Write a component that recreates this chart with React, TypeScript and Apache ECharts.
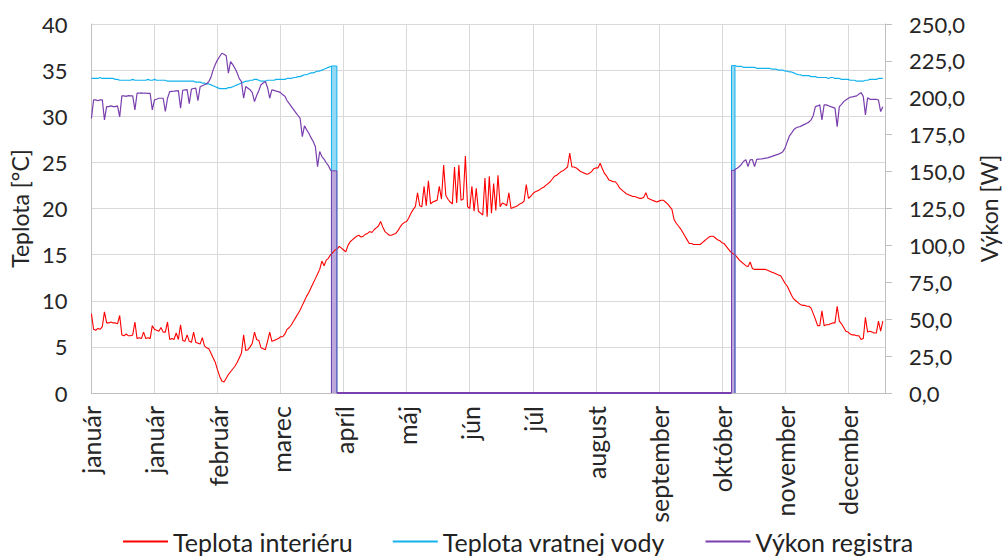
import React, { useEffect, useRef } from "react";
import * as echarts from "echarts";

// x axis: day of year, one major tick every 29 days
const tickLabels = ["január", "január", "február", "marec", "apríl", "máj", "jún", "júl", "august", "september", "október", "november", "december"];
const tickStep = 29;
const yearDays = 365;

// Teplota interiéru [°C], one value per day (day 0 .. 364)
const redTemp = [
  8.6, 6.9, 6.8, 7.0, 6.9, 7.2, 8.8, 7.6, 7.6, 7.7,
  7.6, 7.6, 7.5, 8.4, 6.3, 6.2, 6.4, 6.2, 6.2, 6.3,
  7.7, 5.9, 6.0, 5.9, 6.6, 5.9, 6.0, 5.9, 7.3, 6.9,
  6.8, 6.7, 7.1, 6.6, 6.6, 7.7, 5.8, 5.9, 5.8, 6.5,
  5.8, 7.4, 5.7, 5.6, 6.3, 5.6, 5.5, 6.6, 5.5, 5.4,
  5.3, 6.0, 5.1, 4.9, 4.8, 4.3, 3.8, 3.3, 2.5, 1.8,
  1.3, 1.2, 1.6, 2.0, 2.3, 2.6, 2.9, 3.3, 3.8, 4.3,
  6.3, 4.6, 4.7, 5.0, 5.4, 6.6, 5.8, 5.7, 4.9, 4.8,
  4.7, 5.6, 6.6, 5.6, 5.7, 5.8, 5.9, 6.1, 6.1, 6.4,
  6.9, 7.1, 7.4, 7.8, 8.2, 8.6, 9.0, 9.5, 10.0, 10.5,
  10.9, 11.4, 11.9, 12.4, 12.9, 13.4, 14.3, 13.8, 14.4, 14.6,
  15.0, 15.2, 15.5, 15.6, 15.9, 15.7, 15.5, 15.3, 16.0, 16.4,
  16.6, 16.8, 17.0, 17.1, 16.9, 17.0, 17.2, 17.3, 17.5, 17.4,
  17.7, 17.9, 18.1, 18.6, 18.0, 17.5, 17.3, 17.1, 17.1, 17.2,
  17.3, 17.6, 18.0, 18.3, 18.5, 18.6, 19.0, 19.5, 19.9, 20.2,
  21.7, 20.3, 20.2, 22.4, 20.3, 23.0, 20.5, 20.7, 20.8, 20.9,
  22.4, 21.0, 24.7, 21.4, 21.0, 20.7, 20.5, 24.5, 20.6, 24.7,
  20.9, 21.0, 25.7, 20.2, 20.0, 22.4, 19.7, 22.2, 19.7, 19.5,
  19.3, 23.3, 19.1, 23.5, 19.5, 22.7, 19.8, 23.6, 20.2, 20.6,
  20.5, 20.3, 21.7, 20.0, 20.1, 20.2, 20.3, 20.5, 20.6, 20.8,
  22.6, 21.1, 21.3, 21.6, 21.8, 21.9, 22.0, 22.2, 22.3, 22.5,
  22.7, 22.9, 23.2, 23.5, 23.6, 23.8, 24.0, 24.1, 24.3, 24.5,
  26.0, 24.5, 24.5, 24.4, 24.2, 24.0, 23.9, 23.8, 23.7, 23.8,
  24.0, 24.3, 24.4, 24.4, 24.9, 24.3, 23.8, 23.5, 23.1, 23.0,
  22.9, 22.9, 22.6, 22.2, 22.0, 21.8, 21.6, 21.5, 21.4, 21.3,
  21.3, 21.2, 21.1, 21.1, 21.2, 21.7, 21.1, 21.0, 20.9, 20.8,
  20.7, 20.8, 20.9, 20.9, 20.7, 20.5, 20.2, 19.9, 18.8, 18.4,
  18.1, 17.8, 17.4, 17.0, 16.6, 16.2, 16.2, 16.1, 16.1, 16.1,
  16.1, 16.3, 16.5, 16.7, 16.9, 17.0, 17.0, 16.8, 16.6, 16.5,
  16.3, 16.2, 15.9, 15.6, 15.3, 15.1, 15.0, 14.7, 14.4, 14.2,
  14.0, 13.8, 13.7, 14.2, 13.5, 13.4, 13.4, 13.4, 13.4, 13.4,
  13.4, 13.3, 13.2, 13.1, 13.0, 12.9, 12.8, 12.7, 12.3, 11.9,
  11.6, 11.1, 10.6, 10.2, 10.0, 9.8, 9.6, 9.5, 9.5, 9.4,
  9.4, 9.2, 8.6, 8.0, 7.3, 7.3, 8.9, 7.3, 7.4, 7.4,
  7.5, 7.6, 7.6, 9.4, 7.8, 7.5, 7.1, 6.7, 6.6, 6.4,
  6.3, 6.3, 6.2, 6.2, 5.8, 5.9, 8.2, 6.6, 6.7, 6.6,
  6.5, 6.5, 7.8, 6.7, 7.8,
];

// Teplota vratnej vody [°C], heating season: days 0..110 and 296..364
const cyanSpring = [
  34.1, 34.1, 34.1, 34.1, 34.2, 34.1, 34.1, 34.1, 34.1, 34.1,
  34.1, 34.0, 34.0, 33.9, 33.9, 33.9, 33.9, 33.9, 33.9, 34.0,
  33.9, 33.9, 33.9, 33.9, 33.9, 33.9, 34.0, 33.9, 33.9, 34.0,
  33.9, 33.9, 33.9, 33.9, 33.9, 33.8, 33.8, 33.8, 33.8, 33.8,
  33.8, 33.8, 33.8, 33.8, 33.8, 33.8, 33.8, 33.8, 33.7, 33.7,
  33.7, 33.6, 33.6, 33.5, 33.5, 33.4, 33.3, 33.2, 33.1, 33.0,
  33.0, 33.0, 33.0, 33.1, 33.1, 33.2, 33.3, 33.4, 33.5, 33.6,
  33.7, 33.8, 33.8, 33.9, 33.9, 34.0, 34.0, 33.9, 33.8, 33.8,
  33.8, 33.9, 33.9, 33.9, 33.9, 34.0, 34.0, 34.0, 34.0, 34.0,
  34.1, 34.1, 34.1, 34.2, 34.2, 34.3, 34.3, 34.4, 34.5, 34.5,
  34.6, 34.7, 34.7, 34.8, 34.9, 34.9, 35.0, 35.1, 35.2, 35.3,
  35.4,
];
const cyanAutumn = [
  35.5, 35.4, 35.4, 35.4,
  35.3, 35.3, 35.3, 35.3, 35.3, 35.3, 35.2, 35.2, 35.2, 35.2,
  35.2, 35.2, 35.2, 35.1, 35.1, 35.1, 35.0, 35.0, 35.0, 34.9,
  34.9, 34.8, 34.8, 34.7, 34.6, 34.5, 34.5, 34.4, 34.4, 34.4,
  34.4, 34.3, 34.3, 34.3, 34.2, 34.2, 34.2, 34.2, 34.2, 34.1,
  34.2, 34.2, 34.1, 34.1, 34.1, 34.0, 34.0, 34.0, 34.0, 33.9,
  33.9, 33.9, 33.8, 33.8, 33.8, 33.8, 33.9, 33.9, 34.0, 34.0,
  34.0, 34.0, 34.1, 34.1, 34.1,
];

// Výkon registra [W], heating season: days 0..110 and 296..364
const powerSpring = [
  186, 198.6, 198.6, 198.0, 198.6, 198.6, 185, 194, 194, 194.5,
  194, 194, 194.5, 187, 201.3, 201.3, 201.0, 201.5, 201.3, 201.3,
  191.8, 203.1, 203.1, 203.3, 203.1, 203.1, 203.0, 203.1, 191.8, 198.6,
  199.0, 199.7, 199.7, 199.7, 190.7, 199.7, 204.2, 204.4, 204.5, 204.7,
  204.9, 193, 205.1, 205.4, 205.6, 196, 205.9, 206.3, 206.5, 198,
  207.5, 208.2, 208.8, 209.5, 211, 214, 218.9, 222.7, 225.7, 228,
  230.2, 229.5, 228.5, 216.7, 224.5, 222.5, 220, 217, 213, 211,
  199.7, 207.6, 206.5, 205.4, 203.5, 197.4, 201.6, 205, 208.8, 210,
  211, 207, 199.7, 205.4, 205, 204.5, 204.2, 203.5, 202, 201,
  198, 196, 194, 192, 190, 188, 186, 173.7, 181, 178.3,
  176, 173, 170.4, 167, 153.4, 163.6, 160.2, 158.5, 156, 154,
  151,
];
const powerAutumn = [
  151.5, 152.3, 153.4, 155,
  157, 158, 153.4, 158, 158.2, 153.4, 158.3, 158.5, 158.6, 158.8,
  159.1, 159.3, 159.8, 160.3, 160.8, 161.3, 161.8, 162.5, 163.5, 165.9,
  170, 174, 176, 178.3, 179.5, 180.2, 180.5, 181.3, 182, 182.8,
  183.5, 185, 188, 194, 194.5, 195.2, 185, 195.2, 195.2, 194.6,
  194, 193.5, 193, 180.5, 194, 195.5, 197.4, 198.5, 199.5, 200.4,
  200.6, 201, 201.3, 202.5, 203.5, 201, 188.4, 200, 199, 199,
  199, 199, 198.5, 190.7, 194,
];
const autumnFirstDay = 296;

// switching periods (days) and the levels reached while switching
const springSwitch = [110.4, 112.9];
const autumnSwitch = [294.4, 296.0];
const cyanSwitchTop = [35.45, 35.5];
const powerSwitchTop = [150.5, 150.8];

const names = ["Teplota interiéru", "Teplota vratnej vody", "Výkon registra"];
const RED = "#FF0000";
const CYAN = "#12B2EE";
const PURPLE = "#7A3FAE";
const CYAN_FILL = "#93d9f4";
const PURPLE_FILL = "#bda8db";
const FONT = "Lato";

const toPoints = (arr: number[], start: number) => arr.map((v, i) => [start + i, v]);
const rectPts = (x0: number, x1: number, top: number) => [[x0, 0], [x0, top], [x1, top], [x1, 0]];

export default function App() {
  const ref = useRef<HTMLDivElement>(null);
  useEffect(() => {
    if (!ref.current) return;
    const chart = echarts.init(ref.current, undefined, { renderer: "svg" });
    const line = (name: string, color: string, yAxisIndex: number, data: any[], extra: any = {}) => ({
      name, type: "line", yAxisIndex, data, symbol: "none", showSymbol: false,
      color, lineStyle: { color, width: 1.2 }, silent: true, ...extra,
    });
    chart.setOption({
      animation: false,
      textStyle: { fontFamily: FONT },
      grid: { left: 89, right: 119, top: 24, bottom: 163 },
      legend: {
        data: names,
        left: 123,
        top: 529,
        icon: "rect",
        itemWidth: 45,
        itemHeight: 2,
        itemGap: 40,
        padding: 0,
        textStyle: { fontFamily: FONT, fontSize: 25, color: "#222" },
      },
      xAxis: {
        type: "value",
        min: 0,
        max: yearDays,
        interval: tickStep,
        axisLine: { show: true, lineStyle: { color: "#bfbfbf", width: 1 } },
        axisTick: { show: false },
        splitLine: { show: true, lineStyle: { color: "#d9d9d9", width: 1 } },
        axisLabel: {
          rotate: 90,
          margin: 13,
          fontSize: 25,
          color: "#262626",
          fontFamily: FONT,
          showMaxLabel: false,
          formatter: (v: number) => tickLabels[Math.round(v / tickStep)] ?? "",
        },
      },
      yAxis: [
        {
          type: "value",
          min: 0,
          max: 40,
          interval: 5,
          name: "Teplota [°C]",
          nameLocation: "middle",
          nameRotate: 90,
          nameGap: 57,
          nameTextStyle: { fontSize: 23, color: "#262626", fontFamily: FONT },
          axisLine: { show: true, lineStyle: { color: "#bfbfbf" } },
          axisTick: { show: false },
          splitLine: { show: true, lineStyle: { color: "#d9d9d9", width: 1 } },
          axisLabel: { margin: 24, fontSize: 22, color: "#262626", fontFamily: FONT },
        },
        {
          type: "value",
          position: "right",
          min: 0,
          max: 250,
          interval: 25,
          name: "Výkon [W]",
          nameLocation: "middle",
          nameRotate: 90,
          nameGap: 92,
          nameTextStyle: { fontSize: 23, color: "#262626", fontFamily: FONT },
          axisLine: { show: true, lineStyle: { color: "#bfbfbf" } },
          axisTick: { show: true, length: 7, lineStyle: { color: "#bfbfbf" } },
          splitLine: { show: false },
          axisLabel: {
            margin: 24,
            fontSize: 22,
            color: "#262626",
            fontFamily: FONT,
            formatter: (v: number) => v.toFixed(1).replace(".", ","),
          },
        },
      ],
      series: [
        line(names[0], RED, 0, toPoints(redTemp, 0), { lineStyle: { color: RED, width: 1.1 } }),
        line(names[1], CYAN, 0, [...toPoints(cyanSpring, 0), [springSwitch[0], cyanSwitchTop[0]]]),
        line(names[1], CYAN, 0, rectPts(springSwitch[0], springSwitch[1], cyanSwitchTop[0]), {
          lineStyle: { color: CYAN, width: 1 },
          areaStyle: { color: CYAN_FILL, opacity: 1 },
        }),
        line(names[1], CYAN, 0, [[springSwitch[1], 0], [autumnSwitch[0], 0]]),
        line(names[1], CYAN, 0, rectPts(autumnSwitch[0], autumnSwitch[1], cyanSwitchTop[1]), {
          lineStyle: { color: CYAN, width: 1 },
          areaStyle: { color: CYAN_FILL, opacity: 1 },
        }),
        line(names[1], CYAN, 0, [[autumnSwitch[1], cyanSwitchTop[1]], ...toPoints(cyanAutumn, autumnFirstDay)]),
        line(names[2], PURPLE, 1, [...toPoints(powerSpring, 0), [springSwitch[0], powerSwitchTop[0]]]),
        line(names[2], PURPLE, 1, rectPts(springSwitch[0], springSwitch[1], powerSwitchTop[0]), {
          lineStyle: { color: PURPLE, width: 1 },
          areaStyle: { color: PURPLE_FILL, opacity: 1 },
        }),
        line(names[2], PURPLE, 1, [[springSwitch[1], 0], [autumnSwitch[0], 0]], { lineStyle: { color: PURPLE, width: 2 } }),
        line(names[2], PURPLE, 1, rectPts(autumnSwitch[0], autumnSwitch[1], powerSwitchTop[1]), {
          lineStyle: { color: PURPLE, width: 1 },
          areaStyle: { color: PURPLE_FILL, opacity: 1 },
        }),
        line(names[2], PURPLE, 1, [[autumnSwitch[1], powerSwitchTop[1]], ...toPoints(powerAutumn, autumnFirstDay)]),
      ],
    });
    return () => chart.dispose();
  }, []);
  return <div ref={ref} style={{ width: 1008, height: 556, position: "absolute", left: 0, top: 0 }} />;
}
